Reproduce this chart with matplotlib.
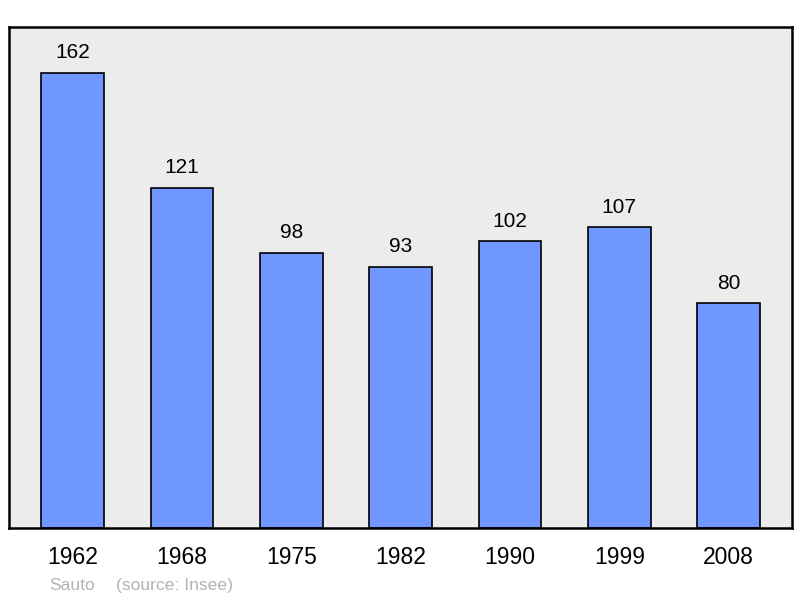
import matplotlib.pyplot as plt

annees = ["1962", "1968", "1975", "1982", "1990", "1999", "2008"]
population = [162, 121, 98, 93, 102, 107, 80]

plt.rcParams['font.family'] = ['Liberation Sans', 'DejaVu Sans']

fig = plt.figure(figsize=(8, 5.98), dpi=100)
ax = fig.add_axes([9/800, 70/598, 783/800, 501/598])
ax.set_facecolor('#ececec')

pos = range(len(annees))
ax.bar(pos, population, width=0.575, color='#7096ff', edgecolor='black', linewidth=1.2, zorder=2)

for x, v in zip(pos, population):
    ax.annotate(str(v), (x, v), xytext=(0, 10.5), textcoords='offset points',
                ha='center', va='baseline', fontsize=15)

ax.set_xlim(-0.583, 6.58)
ax.set_ylim(0, 178.3)
ax.set_yticks([])
ax.set_xticks(list(pos))
ax.set_xticklabels(annees, fontsize=16.5)
ax.tick_params(axis='x', length=0, pad=13)
for s in ax.spines.values():
    s.set_linewidth(1.8)

fig.text(49/800, 1 - 590/598, "Sauto", color='#b3b3b3', fontsize=12.6, va='baseline')
fig.text(116/800, 1 - 590/598, "(source: Insee)", color='#b3b3b3', fontsize=12.6, va='baseline')

fig.savefig('out.png', dpi=100)
